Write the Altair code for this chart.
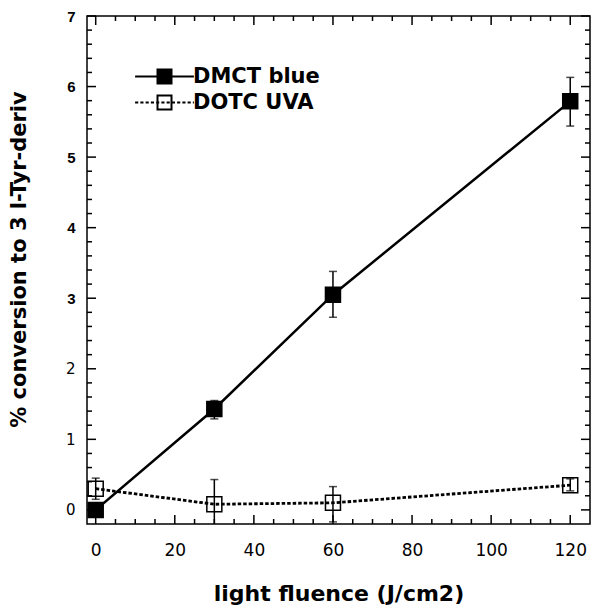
import altair as alt
import pandas as pd

# ---- data ----
fluence = [0, 30, 60, 120]
series_names = ["DMCT blue", "DOTC UVA"]

dmct_mean = [0.0, 1.43, 3.05, 5.79]
dmct_lo = [0.0, 1.29, 2.73, 5.44]
dmct_hi = [0.0, 1.55, 3.38, 6.13]

dotc_mean = [0.30, 0.08, 0.10, 0.35]
dotc_lo = [0.15, -0.27, -0.17, 0.27]
dotc_hi = [0.45, 0.43, 0.33, 0.44]

x_labels = [0, 20, 40, 60, 80, 100, 120]
x_minor = [5, 10, 15, 25, 30, 35, 45, 50, 55, 65, 70, 75, 85, 90, 95, 105, 110, 115]
y_labels = [0, 1, 2, 3, 4, 5, 6, 7]
y_minor = [0.2, 0.4, 0.6, 0.8, 1.2, 1.4, 1.6, 1.8, 2.2, 2.4, 2.6, 2.8,
           3.2, 3.4, 3.6, 3.8, 4.2, 4.4, 4.6, 4.8, 5.2, 5.4, 5.6, 5.8,
           6.2, 6.4, 6.6, 6.8]

rows = []
for name, m, lo, hi in [(series_names[0], dmct_mean, dmct_lo, dmct_hi),
                        (series_names[1], dotc_mean, dotc_lo, dotc_hi)]:
    for f, a, b, c in zip(fluence, m, lo, hi):
        rows.append({"fluence": f, "series": name, "mean": a, "lo": b, "hi": c})
df = pd.DataFrame(rows)

xmaj = pd.DataFrame({"v": x_labels})
xmin = pd.DataFrame({"v": x_minor})
ymaj = pd.DataFrame({"v": y_labels})
ymin = pd.DataFrame({"v": y_minor})

# layout (plot area) and padding; whole svg = 584 x 597
W, H = 503, 508
PAD = {"left": 79, "top": 8, "right": 2, "bottom": 81}
MAJ, MIN = 9, 5

xs = alt.Scale(domain=[-2.2, 125], nice=False, zero=False)
ys = alt.Scale(domain=[-0.2, 7], nice=False, zero=False)

# legend symbols (line + square), unit half-side = 1
path_solid = "M-4.2,0H-1M1,0H4.2M-1,-1H1V1H-1Z"
dots = []
p = -4.2
while p < 4.2:
    dots.append("M%.2f,0H%.2f" % (p, min(p + 0.45, 4.2)))
    p += 0.75
path_dotted = "".join(dots) + "M-1,-1H1V1H-1Z"

fill_scale = alt.Scale(domain=series_names, range=["black", "transparent"])
shape_scale = alt.Scale(domain=series_names, range=[path_solid, path_dotted])

x_axis = alt.Axis(values=x_labels, ticks=False, domain=False, grid=False, tickSize=0,
                  labelFont="DejaVu Sans", labelFontSize=17, labelColor="black",
                  labelPadding=18, labelFlush=False,
                  title="light fluence (J/cm2)", titleFont="DejaVu Sans",
                  titleFontSize=22, titleFontWeight="bold", titleColor="black",
                  titleY=76, titleBaseline="alphabetic")
y_axis = alt.Axis(values=y_labels, ticks=False, domain=False, grid=False, tickSize=0,
                  labelFont={"condition": {"test": "datum.value <= 2", "value": "DejaVu Sans"},
                             "value": "Liberation Sans"},
                  labelFontWeight={"condition": {"test": "datum.value <= 2", "value": "normal"},
                                   "value": "bold"},
                  labelFontSize=15, labelColor="black", labelPadding=12, labelFlush=False,
                  title="% conversion to 3 l-Tyr-deriv", titleFont="DejaVu Sans",
                  titleFontSize=21, titleFontWeight="bold", titleColor="black",
                  titleX=-61.5, titleY=243, titleBaseline="alphabetic")

leg = alt.Legend(title=None, orient="none", legendX=67, legendY=50, padding=0,
                 labelFont="DejaVu Sans", labelFontSize=21, labelFontWeight="bold",
                 labelColor="black", labelOffset=18, rowPadding=3,
                 symbolSize=196, symbolStrokeWidth=2, symbolStrokeColor="black")


def X(field):
    return alt.X(field, scale=xs, axis=x_axis)


def Y(field):
    return alt.Y(field, scale=ys, axis=y_axis)


base = alt.Chart(df)

line_dmct = base.transform_filter(alt.datum.series == series_names[0]).mark_line(
    color="black", strokeWidth=2.5).encode(x=X("fluence:Q"), y=Y("mean:Q"))
line_dotc = base.transform_filter(alt.datum.series == series_names[1]).mark_line(
    color="black", strokeWidth=2.8, strokeDash=[3.5, 2]).encode(
    x=X("fluence:Q"), y=Y("mean:Q"))
err = base.mark_rule(color="black", strokeWidth=1.5, clip=True).encode(
    x=X("fluence:Q"), y=Y("lo:Q"), y2="hi:Q")
cap_lo = base.mark_tick(color="black", orient="horizontal", size=8, thickness=1.5,
                        clip=True).encode(x=X("fluence:Q"), y=Y("lo:Q"))
cap_hi = base.mark_tick(color="black", orient="horizontal", size=8, thickness=1.5,
                        clip=True).encode(x=X("fluence:Q"), y=Y("hi:Q"))
pts = base.mark_point(shape="square", filled=True, size=225, stroke="black",
                      strokeWidth=1.5, opacity=1).encode(
    x=X("fluence:Q"), y=Y("mean:Q"),
    fill=alt.Fill("series:N", scale=fill_scale, legend=leg),
)
legend_layer = base.transform_filter(alt.datum.fluence < -100).mark_point(
    filled=True, stroke="black", strokeWidth=2, opacity=1).encode(
    x=X("fluence:Q"), y=Y("mean:Q"),
    shape=alt.Shape("series:N", scale=shape_scale, legend=leg),
    fill=alt.Fill("series:N", scale=fill_scale, legend=leg),
)


def xticks(data, L):
    b = alt.Chart(data).mark_rule(color="black", strokeWidth=1.5).encode(
        x=X("v:Q"), y=alt.value(H), y2=alt.value(H - L))
    t = alt.Chart(data).mark_rule(color="black", strokeWidth=1.5).encode(
        x=X("v:Q"), y=alt.value(0), y2=alt.value(L))
    return [b, t]


def yticks(data, L):
    l = alt.Chart(data).mark_rule(color="black", strokeWidth=1.5).encode(
        y=Y("v:Q"), x=alt.value(0), x2=alt.value(L))
    r = alt.Chart(data).mark_rule(color="black", strokeWidth=1.5).encode(
        y=Y("v:Q"), x=alt.value(W), x2=alt.value(W - L))
    return [l, r]


tick_layers = xticks(xmaj, MAJ) + xticks(xmin, MIN) + yticks(ymaj, MAJ) + yticks(ymin, MIN)

chart = alt.layer(
    line_dmct, line_dotc, err, cap_lo, cap_hi, pts, legend_layer, *tick_layers
).properties(
    width=W, height=H, padding=PAD,
    autosize=alt.AutoSizeParams(type="none"),
    background="white",
).configure_view(stroke="black", strokeWidth=1.5)

chart.save("out.html", embed_options={"renderer": "svg", "actions": False})
